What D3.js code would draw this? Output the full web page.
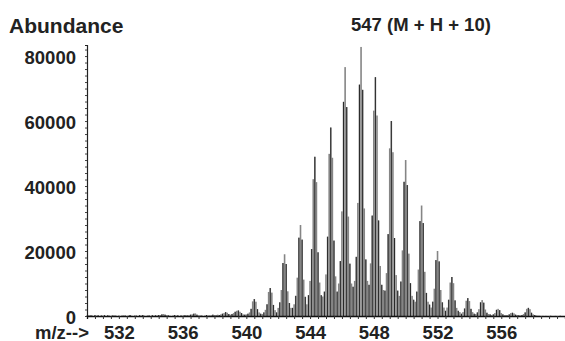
<!DOCTYPE html>
<html>
<head>
<meta charset="utf-8">
<script src="https://cdn.jsdelivr.net/npm/d3@7"></script>
<style>
  html, body { margin: 0; padding: 0; background: #fff; }
  svg { display: block; }
  text { font-family: "Liberation Sans", Arial, Helvetica, sans-serif; font-weight: bold; fill: #222; }
</style>
</head>
<body>
<svg id="chart" width="565" height="341"></svg>
<script>
// ---- data (profile spectrum, abundance sampled every 0.1 m/z from 530.0) ----
const mzStart = 530.0;
const mzStep = 0.1;
const abundance = [
  // 530.0 - 530.9
  200,100,300,150,0,250,100,200,0,150,
  // 531
  100,250,0,200,150,0,300,100,200,0,
  // 532
  150,0,200,100,250,0,150,300,100,0,
  // 533
  200,100,0,250,150,300,100,0,200,150,
  // 534
  0,250,100,200,150,300,300,500,600,400,
  // 535
  250,200,100,0,150,300,100,200,0,150,
  // 536
  100,200,300,150,250,400,500,700,800,400,
  // 537
  200,100,250,0,150,300,200,100,250,400,
  // 538
  300,200,400,300,500,700,900,1200,1000,600,
  // 539
  400,600,900,1300,1600,1700,1300,900,500,400,
  // 540
  500,700,1100,2200,4500,5200,4400,2100,1100,700,
  // 541
  600,1100,1900,3600,7400,8600,7200,3400,1800,1100,
  // 542
  2500,4200,8000,16300,19000,16000,7600,4000,2500,2500,
  // 543
  3600,6200,11800,24100,28000,23500,11200,5900,3600,6400,
  // 544
  10800,20600,42100,49000,41200,19600,10300,6400,6000,7500,
  // 545
  12800,24400,49900,58000,48700,23200,12200,7500,10000,16900,
  // 546
  32200,65900,76600,64300,30600,16100,10000,9000,10800,18200,
  // 547
  34800,71200,82800,69600,33100,17400,10800,9600,16200,30900,
  // 548
  63200,73500,61700,29400,15400,9600,8000,7800,13200,25200,
  // 549
  51600,60000,50400,24000,12600,7800,6200,10600,20200,41300,
  // 550
  48000,40300,19200,10100,6200,5000,4400,7500,14300,29200,
  // 551
  34000,28600,13600,7100,4400,3500,2600,4400,8400,17200,
  // 552
  20000,16800,8000,4200,2600,1600,2600,5000,10300,12000,
  // 553
  10100,4800,2500,1600,1200,700,1200,2300,4700,5500,
  // 554
  4600,2200,1200,700,600,1100,2100,4200,4900,4100,
  // 555
  2000,1000,600,500,300,500,900,1900,2200,1800,
  // 556
  900,500,300,200,300,500,900,1000,800,400,
  // 557
  300,200,200,300,600,1100,2200,2500,2100,1000,
  // 558
  500,300,150,50,100,0,50,0,50,0,
  // 559
  0,50,0,0,50,0,0,50,0,0
];

const xTickLabels = [532, 536, 540, 544, 548, 552, 556];
const yTickLabels = [0, 20000, 40000, 60000, 80000];
const yAxisTitle = "Abundance";
const xAxisTitle = "m/z-->";
const peakLabel = "547 (M + H + 10)";

// ---- build table ----
const spectrum = abundance.map((v, i) => ({ mz: +(mzStart + i * mzStep).toFixed(1), value: v }));

// ---- layout ----
const svg = d3.select("#chart");
const x = d3.scaleLinear().domain([530, 560]).range([87, 565]);
const y = d3.scaleLinear().domain([0, 83400]).range([316, 45]);
const barW = x(mzStart + mzStep) - x(mzStart);

// bars (gray body with dark lines on alternate samples)
const gBars = svg.append("g");
gBars.selectAll("rect.body")
  .data(spectrum)
  .join("rect")
  .attr("class", "body")
  .attr("x", d => x(d.mz) - barW / 2)
  .attr("width", barW)
  .attr("y", d => y(d.value))
  .attr("height", d => y(0) - y(d.value))
  .attr("fill", "#858585");
gBars.selectAll("line.edge")
  .data(spectrum.filter((d, i) => i % 2 === 1))
  .join("line")
  .attr("class", "edge")
  .attr("x1", d => x(d.mz))
  .attr("x2", d => x(d.mz))
  .attr("y1", y(0))
  .attr("y2", d => y(d.value))
  .attr("stroke", "#1e1e1e")
  .attr("stroke-width", 0.9);

// y axis: minor ticks
svg.append("g")
  .attr("transform", `translate(${x(530)},0)`)
  .call(d3.axisLeft(y).tickValues(d3.range(0, 83001, 2000)).tickSize(2).tickFormat(""))
  .call(g => g.select(".domain").attr("stroke", "#222").attr("stroke-width", 1.2))
  .call(g => g.selectAll(".tick line").attr("stroke", "#444"));

// y axis labels
svg.append("g")
  .attr("transform", `translate(${x(530)},0)`)
  .call(d3.axisLeft(y).tickValues(yTickLabels).tickSize(0).tickPadding(11).tickFormat(d3.format("d")))
  .call(g => g.select(".domain").remove())
  .call(g => g.selectAll("text").attr("font-size", "18.5px").attr("dy", "0.38em")
      .style("font-family", "'Liberation Sans', Arial, sans-serif").style("font-weight", "bold").attr("fill", "#222"));

// x axis: minor ticks
svg.append("g")
  .attr("transform", `translate(0,${y(0)})`)
  .call(d3.axisBottom(x).tickValues(d3.range(530.5, 560, 0.5)).tickSize(3).tickFormat(""))
  .call(g => g.select(".domain").attr("stroke", "#111").attr("stroke-width", 1.3))
  .call(g => g.selectAll(".tick line").attr("stroke", "#333"));

// x axis labels
svg.append("g")
  .attr("transform", `translate(0,${y(0)})`)
  .call(d3.axisBottom(x).tickValues(xTickLabels).tickSize(0).tickPadding(10).tickFormat(d3.format("d")))
  .call(g => g.select(".domain").remove())
  .call(g => g.selectAll("text").attr("font-size", "18.5px")
      .style("font-family", "'Liberation Sans', Arial, sans-serif").style("font-weight", "bold").attr("fill", "#222"));

// titles
svg.append("text").attr("x", 9).attr("y", 32.5).attr("font-size", "21px").text(yAxisTitle);
svg.append("text").attr("x", 35).attr("y", 339).attr("font-size", "18.5px").text(xAxisTitle);
svg.append("text").attr("x", 351).attr("y", 30.5).attr("font-size", "18.5px").text(peakLabel);
</script>
</body>
</html>
